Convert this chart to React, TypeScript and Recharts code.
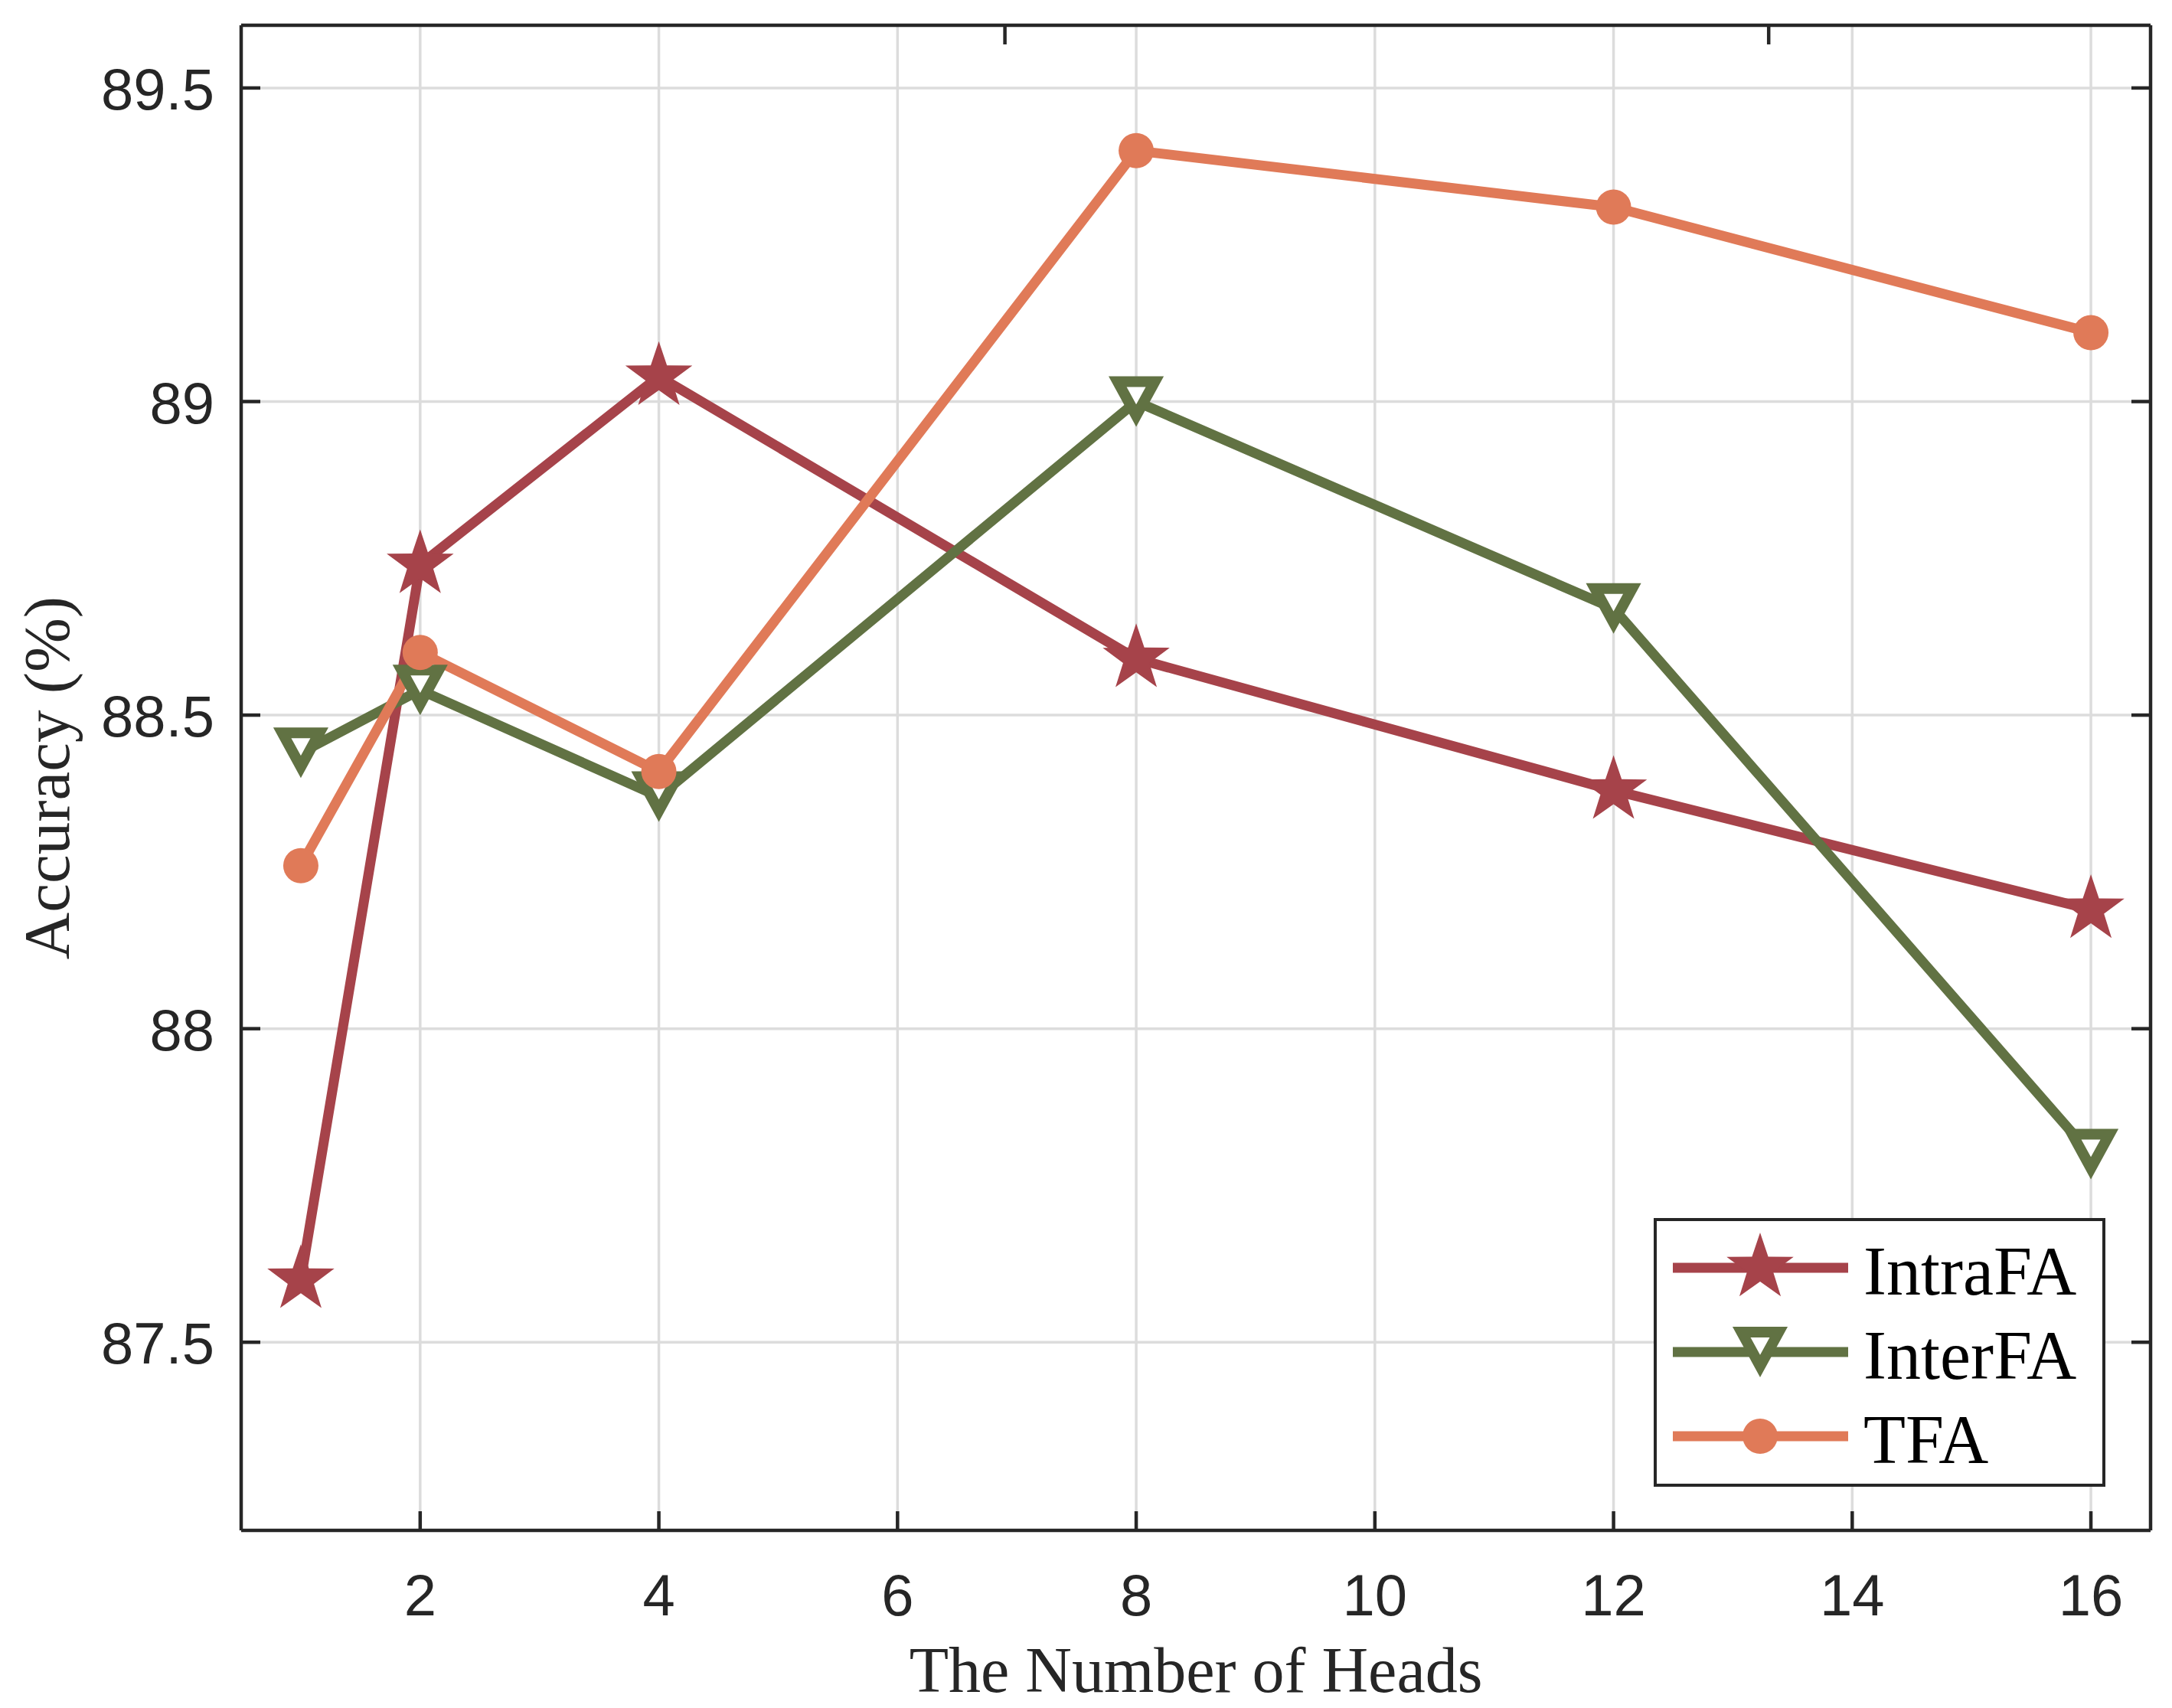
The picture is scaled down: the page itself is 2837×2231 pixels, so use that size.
import React from 'react';
import { LineChart, Line, XAxis, YAxis, CartesianGrid, Legend } from 'recharts';

// ---- data ----
const heads = [1, 2, 4, 8, 12, 16];
const intraFA = [87.6, 88.74, 89.04, 88.59, 88.38, 88.19];
const interFA = [88.44, 88.54, 88.37, 89.0, 88.67, 87.8];
const tfa = [88.26, 88.6, 88.41, 89.4, 89.31, 89.11];
const seriesNames = ['IntraFA', 'InterFA', 'TFA'];
const xTicks = [2, 4, 6, 8, 10, 12, 14, 16];
const yTicks = [87.5, 88, 88.5, 89, 89.5];
const xDomain = [0.5, 16.5];
const yDomain = [87.2, 89.6];
const xLabel = 'The Number of Heads';
const yLabel = 'Accuracy (%)';

const data = heads.map((h, i) => ({ x: h, IntraFA: intraFA[i], InterFA: interFA[i], TFA: tfa[i] }));

// ---- styles ----
const COLORS: Record<string, string> = { IntraFA: '#A6434A', InterFA: '#617243', TFA: '#E07A58' };
const AX = '#262626';
const SANS = '"Liberation Sans", Arial, Helvetica, sans-serif';
const SERIF = '"Liberation Serif", "Times New Roman", serif';
const LW = 13;
const TICK_LEN = 25;
const TICK_FS = 76;

function starPath(cx: number, cy: number, R: number, r: number) {
  const pts: string[] = [];
  for (let k = 0; k < 10; k++) {
    const rad = k % 2 === 0 ? R : r;
    const a = -Math.PI / 2 + (k * Math.PI) / 5;
    pts.push(`${(cx + rad * Math.cos(a)).toFixed(2)},${(cy + rad * Math.sin(a)).toFixed(2)}`);
  }
  return 'M' + pts.join('L') + 'Z';
}

function triPath(cx: number, cy: number) {
  return `M${cx - 24.25},${cy - 26}L${cx + 24.25},${cy - 26}L${cx},${cy + 18.4}Z`;
}

function Marker({ name, cx, cy }: { name: string; cx: number; cy: number }) {
  if (name === 'IntraFA') return <path d={starPath(cx, cy, 46, 18)} fill={COLORS.IntraFA} />;
  if (name === 'InterFA')
    return <path d={triPath(cx, cy)} fill="#fff" stroke={COLORS.InterFA} strokeWidth={14} strokeLinejoin="miter" strokeMiterlimit={10} />;
  return <circle cx={cx} cy={cy} r={23} fill={COLORS.TFA} />;
}

const makeDot = (name: string) => (props: any) => {
  if (props.cx == null || props.cy == null) return <g key={`${name}-${props.index}`} />;
  return (
    <g key={`${name}-${props.index}`}>
      <Marker name={name} cx={props.cx} cy={props.cy} />
    </g>
  );
};

// ---- ticks (MATLAB style: inward tick marks) ----
const BottomTick = (p: any) => (
  <g>
    <line x1={p.x} x2={p.x} y1={p.y} y2={p.y - TICK_LEN} stroke={AX} strokeWidth={4.5} />
    <text x={p.x} y={p.y + 111} textAnchor="middle" fontFamily={SANS} fontSize={TICK_FS} fill={AX}>
      {p.payload.value}
    </text>
  </g>
);
const TopTick = (p: any) => (
  <line x1={p.x} x2={p.x} y1={p.y} y2={p.y + TICK_LEN} stroke={AX} strokeWidth={4.5} />
);
const LeftTick = (p: any) => (
  <g>
    <line x1={p.x} x2={p.x + TICK_LEN} y1={p.y} y2={p.y} stroke={AX} strokeWidth={4.5} />
    <text x={p.x - 35} y={p.y + 28} textAnchor="end" fontFamily={SANS} fontSize={TICK_FS} fill={AX}>
      {p.payload.value}
    </text>
  </g>
);
const RightTick = (p: any) => (
  <line x1={p.x} x2={p.x - TICK_LEN} y1={p.y} y2={p.y} stroke={AX} strokeWidth={4.5} />
);

const XLabel = (props: any) => {
  const vb = props.viewBox || { x: 315, y: 1999, width: 2494, height: 150 };
  return (
    <text x={vb.x + vb.width / 2} y={vb.y + 211} textAnchor="middle" fontFamily={SERIF} fontSize={84} fill={AX}>
      {xLabel}
    </text>
  );
};
const YLabel = (props: any) => {
  const vb = props.viewBox || { x: 115, y: 33, width: 200, height: 1966 };
  const x = vb.x - 25;
  const y = vb.y + vb.height / 2;
  return (
    <text x={x} y={y} transform={`rotate(-90, ${x}, ${y})`} textAnchor="middle" fontFamily={SERIF} fontSize={85} fill={AX}>
      {yLabel}
    </text>
  );
};

const renderLegend = (props: any) => {
  const payload = [...(props.payload || [])].sort(
    (a: any, b: any) => seriesNames.indexOf(a.dataKey) - seriesNames.indexOf(b.dataKey)
  );
  return (
    <svg width={590} height={351} style={{ display: 'block' }}>
      <rect x={2} y={2} width={586} height={347} fill="#fff" stroke={AX} strokeWidth={4} />
      {payload.map((e: any, i: number) => {
        const cy = 65 + i * 110;
        return (
          <g key={e.dataKey}>
            <line x1={25} x2={254} y1={cy} y2={cy} stroke={e.color} strokeWidth={LW} />
            <Marker name={e.dataKey} cx={139} cy={cy} />
            <text x={274} y={cy + 35} fontFamily={SERIF} fontSize={90} fill="#000">
              {e.value}
            </text>
          </g>
        );
      })}
    </svg>
  );
};

export default function App() {
  return (
    <div style={{ position: 'absolute', left: 0, top: 0, background: '#fff' }}>
      <LineChart width={2837} height={2231} data={data} margin={{ top: 32, right: 27, bottom: 82, left: 115 }}>
        <CartesianGrid stroke="#DCDCDC" strokeWidth={3.5} />
        <XAxis
          dataKey="x"
          type="number"
          domain={xDomain}
          ticks={xTicks}
          allowDataOverflow
          interval={0}
          height={150}
          tickSize={0}
          tickMargin={0}
          tickLine={false}
          axisLine={{ stroke: AX, strokeWidth: 4.5 }}
          tick={<BottomTick />}
          label={<XLabel />}
        />
        <XAxis
          xAxisId="top"
          orientation="top"
          type="number"
          domain={xDomain}
          ticks={xTicks}
          allowDataOverflow
          interval={0}
          height={1}
          tickSize={0}
          tickMargin={0}
          tickLine={false}
          axisLine={{ stroke: AX, strokeWidth: 4.5 }}
          tick={<TopTick />}
        />
        <YAxis
          type="number"
          domain={yDomain}
          ticks={yTicks}
          allowDataOverflow
          interval={0}
          width={200}
          tickSize={0}
          tickMargin={0}
          tickLine={false}
          axisLine={{ stroke: AX, strokeWidth: 4.5 }}
          tick={<LeftTick />}
          label={<YLabel />}
        />
        <YAxis
          yAxisId="right"
          orientation="right"
          type="number"
          domain={yDomain}
          ticks={yTicks}
          allowDataOverflow
          interval={0}
          width={1}
          tickSize={0}
          tickMargin={0}
          tickLine={false}
          axisLine={{ stroke: AX, strokeWidth: 4.5 }}
          tick={<RightTick />}
        />
        <Legend
          layout="vertical"
          align="center"
          verticalAlign="middle"
          width={590}
          height={351}
          wrapperStyle={{ left: 2160, top: 1591, width: 590, height: 351 }}
          content={renderLegend}
        />
        {seriesNames.map((name) => (
          <Line
            key={name}
            type="linear"
            dataKey={name}
            name={name}
            stroke={COLORS[name]}
            strokeWidth={LW}
            strokeLinejoin="round"
            dot={makeDot(name)}
            activeDot={false}
            isAnimationActive={false}
          />
        ))}
      </LineChart>
    </div>
  );
}
